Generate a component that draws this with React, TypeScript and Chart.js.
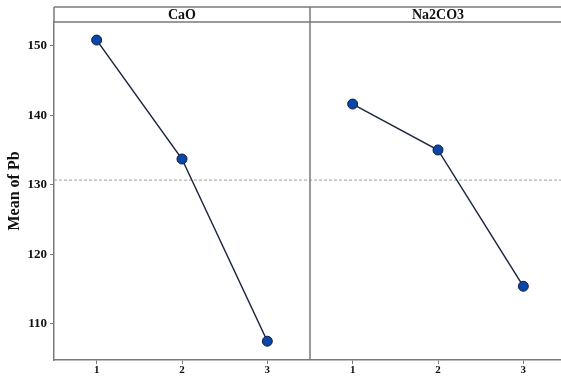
import React, { useEffect, useRef } from "react";
import { Chart, registerables } from "chart.js";

Chart.register(...registerables);

const levels = [1, 2, 3];
const panelNames = ["CaO", "Na2CO3"];
const caoMeans = [150.8, 133.7, 107.5];
const na2co3Means = [141.6, 135.0, 115.4];
const yTicks = [110, 120, 130, 140, 150];

const FONT = "'Liberation Serif', 'Times New Roman', serif";
const AXIS = "#7a7a7a";

export default function App() {
  const ref = useRef<HTMLCanvasElement | null>(null);

  useEffect(() => {
    document.body.style.margin = "0";
    const canvas = ref.current!;
    const all = [...caoMeans, ...na2co3Means];
    const mean = all.reduce((a, b) => a + b, 0) / all.length;

    const headerPlugin = {
      id: "header",
      afterDraw(chart: any) {
        const ctx = chart.ctx;
        const { left, right, top, bottom } = chart.chartArea;
        const xs = chart.scales.x;
        const headTop = 7;
        ctx.save();
        ctx.strokeStyle = AXIS;
        ctx.lineWidth = 1.5;
        ctx.beginPath();
        ctx.moveTo(left, headTop);
        ctx.lineTo(right + 20, headTop);
        ctx.moveTo(left, top);
        ctx.lineTo(right + 20, top);
        ctx.moveTo(left, headTop);
        ctx.lineTo(left, top);
        const div = xs.getPixelForValue(3.5);
        ctx.moveTo(div, headTop);
        ctx.lineTo(div, bottom);
        ctx.stroke();
        ctx.fillStyle = "#111";
        ctx.font = `bold 14px ${FONT}`;
        ctx.textAlign = "center";
        ctx.textBaseline = "middle";
        ctx.fillText(panelNames[0], xs.getPixelForValue(2), (headTop + top) / 2 + 1);
        ctx.fillText(panelNames[1], xs.getPixelForValue(5), (headTop + top) / 2 + 1);
        ctx.restore();
      },
    };

    const lineColor = "#1c2742";
    const pointFill = "#0a46a8";
    const pointBorder = "#0f1d3d";

    const chart = new Chart(canvas, {
      type: "line",
      data: {
        datasets: [
          {
            data: levels.map((l, i) => ({ x: l, y: caoMeans[i] })),
            borderColor: lineColor,
            borderWidth: 1.5,
            pointRadius: 5,
            pointBackgroundColor: pointFill,
            pointBorderColor: pointBorder,
            pointBorderWidth: 1,
          },
          {
            data: levels.map((l, i) => ({ x: l + 3, y: na2co3Means[i] })),
            borderColor: lineColor,
            borderWidth: 1.5,
            pointRadius: 5,
            pointBackgroundColor: pointFill,
            pointBorderColor: pointBorder,
            pointBorderWidth: 1,
          },
          {
            data: [
              { x: 0.5, y: mean },
              { x: 6.5, y: mean },
            ],
            borderColor: "#a0a0a0",
            borderWidth: 1,
            borderDash: [3, 2],
            pointRadius: 0,
          },
        ],
      },
      options: {
        responsive: false,
        animation: false,
        layout: { padding: { top: 22, right: 14, left: 0, bottom: 0 } },
        plugins: {
          legend: { display: false },
          tooltip: { enabled: false },
        },
        scales: {
          x: {
            type: "linear",
            min: 0.5,
            max: 6.5,
            afterBuildTicks: (s: any) => {
              s.ticks = [1, 2, 3, 4, 5, 6].map((v) => ({ value: v }));
            },
            afterFit: (s: any) => {
              s.height = 16;
            },
            ticks: {
              callback: (v: any) => String(((Number(v) - 1) % 3) + 1),
              font: { family: FONT, weight: "bold", size: 11 },
              color: "#111",
              padding: 0,
              maxRotation: 0,
            },
            grid: {
              drawOnChartArea: false,
              drawTicks: true,
              tickLength: 4,
              color: AXIS,
              lineWidth: 1,
            },
            border: { display: true, color: AXIS, width: 1.5 },
          },
          y: {
            min: 104.8,
            max: 153.4,
            afterBuildTicks: (s: any) => {
              s.ticks = yTicks.map((v) => ({ value: v }));
            },
            afterFit: (s: any) => {
              s.width = 54;
            },
            ticks: {
              font: { family: FONT, weight: "bold", size: 13 },
              color: "#111",
              padding: 3,
            },
            grid: {
              drawOnChartArea: false,
              drawTicks: true,
              tickLength: 4,
              color: AXIS,
              lineWidth: 1,
            },
            border: { display: true, color: AXIS, width: 1.5 },
            title: {
              display: true,
              text: "Mean of Pb",
              font: { family: FONT, weight: "bold", size: 16 },
              color: "#111",
              padding: { top: 5, bottom: 2 },
            },
          },
        },
      },
      plugins: [headerPlugin],
    });

    return () => chart.destroy();
  }, []);

  return (
    <div style={{ width: 561, height: 376, overflow: "hidden", position: "relative" }}>
      <canvas ref={ref} width={580} height={376} style={{ display: "block" }} />
    </div>
  );
}
